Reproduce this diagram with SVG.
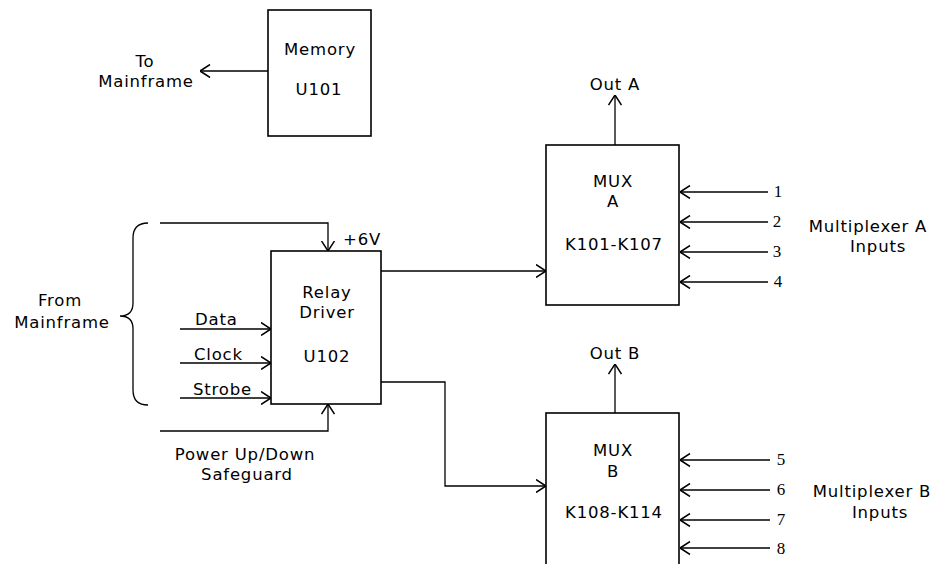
<svg xmlns="http://www.w3.org/2000/svg" width="940" height="564" viewBox="0 0 940 564">
<style>
.box{fill:#fff;stroke:#000;stroke-width:1.6}
.ln{fill:none;stroke:#000;stroke-width:1.3}
.arr{marker-end:url(#ah)}
text{font-family:"DejaVu Sans","Liberation Sans",sans-serif;font-size:16.5px;letter-spacing:0.8px;fill:#000}
.c{text-anchor:middle}
.num{font-family:"Liberation Serif",serif;font-size:17px;letter-spacing:0;text-anchor:middle}
</style>
<defs>
<marker id="ah" markerUnits="userSpaceOnUse" viewBox="0 0 11 14" refX="10.5" refY="7" markerWidth="11" markerHeight="14" orient="auto">
<path d="M0.5,0.5 L10.5,7 L0.5,13.5" fill="none" stroke="#000" stroke-width="1.5"/>
</marker>
</defs>
<rect width="940" height="564" fill="#fff"/>

<g id="connectors">
<line class="ln arr" x1="268" y1="71" x2="200" y2="71"/>
<polyline class="ln arr" points="160,223 328,223 328,251"/>
<polyline class="ln arr" points="160,431 328,431 328,404"/>
<line class="ln arr" x1="180" y1="329" x2="271" y2="329"/>
<line class="ln arr" x1="180" y1="363" x2="271" y2="363"/>
<line class="ln arr" x1="180" y1="398" x2="271" y2="398"/>
<line class="ln arr" x1="381" y1="271" x2="546" y2="271"/>
<polyline class="ln arr" points="381,382 445,382 445,486 546,486"/>
<line class="ln arr" x1="615" y1="145" x2="615" y2="95"/>
<line class="ln arr" x1="615" y1="413" x2="615" y2="364"/>
<line class="ln arr" x1="768" y1="192" x2="680" y2="192"/>
<line class="ln arr" x1="768" y1="222" x2="680" y2="222"/>
<line class="ln arr" x1="768" y1="252" x2="680" y2="252"/>
<line class="ln arr" x1="768" y1="282" x2="680" y2="282"/>
<line class="ln arr" x1="770" y1="460" x2="680" y2="460"/>
<line class="ln arr" x1="770" y1="490" x2="680" y2="490"/>
<line class="ln arr" x1="770" y1="520" x2="680" y2="520"/>
<line class="ln arr" x1="770" y1="548" x2="680" y2="548"/>
<path class="ln" d="M148,223 Q133,223 133,238 L133,303 Q133,316 120,316 Q133,316 133,329 L133,390 Q133,405 148,405"/>
</g>

<g id="memory">
<rect class="box" x="268" y="10" width="103" height="126"/>
<text class="c" x="320" y="55">Memory</text>
<text class="c" x="319" y="95">U101</text>
</g>
<g id="to-mainframe">
<text class="c" x="145" y="67">To</text>
<text class="c" x="146" y="87">Mainframe</text>
</g>

<g id="from-mainframe">
<text class="c" x="60" y="306">From</text>
<text class="c" x="62" y="328">Mainframe</text>
</g>

<g id="relay-driver">
<rect class="box" x="271" y="251" width="110" height="153"/>
<text class="c" x="327" y="298">Relay</text>
<text class="c" x="327" y="318">Driver</text>
<text class="c" x="327" y="362">U102</text>
</g>
<g id="labels-relay">
<text x="343" y="245">+6V</text>
<text x="195" y="325">Data</text>
<text x="194" y="360">Clock</text>
<text x="193" y="395">Strobe</text>
<text class="c" x="245" y="460">Power Up/Down</text>
<text class="c" x="247" y="480">Safeguard</text>
</g>

<g id="mux-a">
<rect class="box" x="546" y="145" width="133" height="160"/>
<text class="c" x="613" y="187">MUX</text>
<text class="c" x="613" y="207">A</text>
<text class="c" x="614" y="250">K101-K107</text>
</g>
<g id="out-a"><text class="c" x="615" y="90">Out A</text></g>
<g id="inputs-a">
<text class="num" x="778" y="197">1</text>
<text class="num" x="777" y="227">2</text>
<text class="num" x="777" y="257">3</text>
<text class="num" x="778" y="287">4</text>
<text class="c" x="868" y="232">Multiplexer A</text>
<text class="c" x="878" y="252">Inputs</text>
</g>

<g id="mux-b">
<rect class="box" x="546" y="413" width="133" height="170"/>
<text class="c" x="613" y="456">MUX</text>
<text class="c" x="613" y="477">B</text>
<text class="c" x="614" y="518">K108-K114</text>
</g>
<g id="out-b"><text class="c" x="615" y="359">Out B</text></g>
<g id="inputs-b">
<text class="num" x="781" y="465">5</text>
<text class="num" x="781" y="495">6</text>
<text class="num" x="781" y="525">7</text>
<text class="num" x="781" y="554">8</text>
<text class="c" x="872" y="497">Multiplexer B</text>
<text class="c" x="880" y="518">Inputs</text>
</g>
</svg>
